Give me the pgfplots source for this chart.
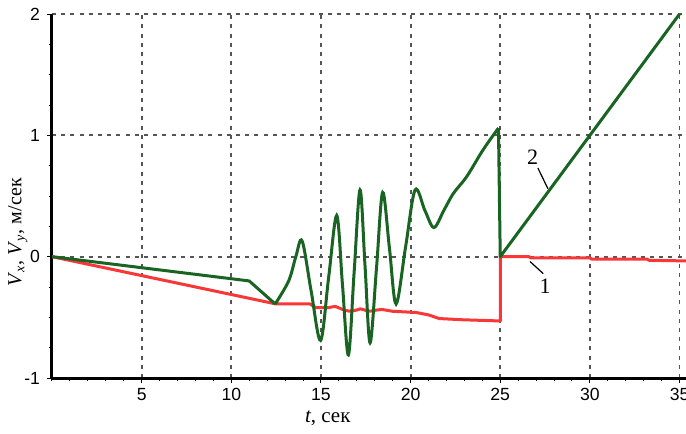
\documentclass[border=0pt]{standalone}
\usepackage{fontspec}
\setmainfont{Liberation Serif}
\newfontfamily\sansfont{Liberation Sans}
\usepackage{pgfplots}
\pgfplotsset{compat=1.18}
\definecolor{cred}{RGB}{250,55,55}
\definecolor{cgreen}{RGB}{25,100,35}
\definecolor{cgrid}{RGB}{85,85,85}
\begin{document}
\begin{tikzpicture}
\begin{axis}[
  scale only axis, width=317pt, height=182pt,
  xmin=0, xmax=35.36, ymin=-1, ymax=2,
  axis x line=bottom, axis y line=left,
  axis line style={-, line width=1.5pt, black},
  xtick={5,10,...,35}, ytick={-1,0,1,2},
  minor xtick={0,1,...,35}, minor ytick={-1,-0.75,...,2},
  grid=major,
  major grid style={dash pattern=on 2pt off 2.6pt, cgrid, line width=0.9pt},
  tick align=outside,
  major tick length=2.5pt, minor tick length=1.5pt,
  every tick/.style={black, line width=0.5pt},
  tick label style={font=\sansfont\fontsize{8.8}{10}\selectfont},
  xticklabel style={yshift=-1pt, inner sep=1.5pt},
  /pgf/number format/assume math mode=true,
  xlabel={\textit{t}, сек},
  xlabel style={at={(axis description cs:0.435,-0.123)}, anchor=base, inner sep=0.5pt, font=\fontsize{10.5}{12}\selectfont},
  ylabel={\textit{V}\textsubscript{\textit{x}}, \textit{V}\textsubscript{\textit{y}}, м/сек},
  ylabel style={at={(axis description cs:-0.054,0.4)}, anchor=center, font=\fontsize{10}{12}\selectfont},
]
% curve 1 (red)
\addplot[cred, line width=1.5pt, line join=round] coordinates {
(0,0)(12.5,-0.39)(14.4,-0.39)(14.7,-0.42)(15.4,-0.42)(15.8,-0.41)(16.3,-0.44)(16.6,-0.45)
(17.0,-0.44)(17.2,-0.43)(17.7,-0.45)(18.1,-0.44)(18.4,-0.435)(19.0,-0.45)(20.3,-0.46)
(21.0,-0.48)(21.6,-0.51)(22.9,-0.52)(25,-0.53)(25,0)(26.6,0)(26.7,-0.01)(30,-0.01)
(30.1,-0.02)(33.2,-0.02)(33.3,-0.03)(35.36,-0.035)};
% curve 2 (green)
\addplot[cgreen, line width=1.5pt, line join=round] coordinates {
(0,0)(11.0,-0.20)(12.45,-0.39)};
\addplot[cgreen, line width=1.5pt, smooth, tension=0.55] coordinates {
(12.45,-0.39)(13.2,-0.2)(13.6,0.0)(13.95,0.13)(14.45,-0.28)(14.98,-0.69)(15.43,-0.17)
(15.88,0.34)(16.2,-0.23)(16.53,-0.81)(16.85,-0.13)(17.18,0.55)(17.46,-0.08)(17.74,-0.71)
(18.1,-0.09)(18.44,0.53)(18.82,0.07)(19.19,-0.39)(19.72,0.08)(20.25,0.55)(20.8,0.38)
(21.3,0.24)(21.85,0.38)(22.38,0.52)(23.13,0.66)(24.04,0.88)(24.9,1.06)};
\addplot[cgreen, line width=1.5pt, line join=round] coordinates {
(24.9,1.06)(25,0)(35.5,2.1)};
% annotations
\draw[black, line width=0.6pt] (axis cs:27.1,0.73) -- (axis cs:27.66,0.56);
\node[font=\fontsize{11}{13}\selectfont] at (axis cs:26.8,0.82) {2};
\draw[black, line width=0.6pt] (axis cs:26.66,-0.04) -- (axis cs:27.4,-0.14);
\node[font=\fontsize{11}{13}\selectfont] at (axis cs:27.5,-0.24) {1};
\end{axis}
\pgfresetboundingbox
\path[use as bounding box] (-26pt,-28pt) rectangle (317pt,189pt);
\end{tikzpicture}
\end{document}
